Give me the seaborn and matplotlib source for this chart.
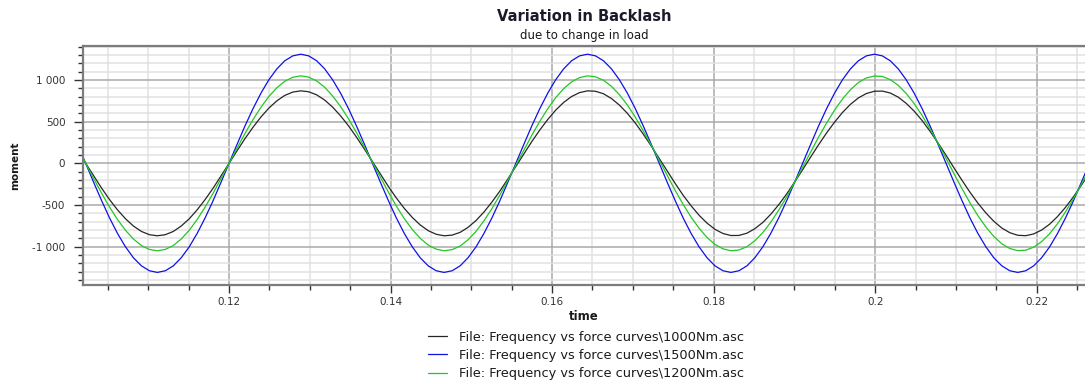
import matplotlib
matplotlib.use("Agg")
import matplotlib.pyplot as plt
import numpy as np
import pandas as pd
import seaborn as sns
from matplotlib.ticker import MultipleLocator, FuncFormatter

# ---------------- data ----------------
time_s = [
    0.10126, 0.10225, 0.10323, 0.10422, 0.10520, 0.10619, 0.10718, 0.10816, 0.10915, 0.11014,
    0.11112, 0.11211, 0.11310, 0.11408, 0.11507, 0.11605, 0.11704, 0.11803, 0.11901,
    0.12000, 0.12099, 0.12197, 0.12296, 0.12395, 0.12493, 0.12592, 0.12690, 0.12789, 0.12888,
    0.12986, 0.13085, 0.13184, 0.13282, 0.13381, 0.13480, 0.13578, 0.13677, 0.13776,
    0.13874, 0.13973, 0.14071, 0.14170, 0.14269, 0.14367, 0.14466, 0.14565, 0.14663,
    0.14762, 0.14861, 0.14959, 0.15058, 0.15156, 0.15255, 0.15354, 0.15452, 0.15551,
    0.15650, 0.15748, 0.15847, 0.15946, 0.16044, 0.16143, 0.16241, 0.16340, 0.16439,
    0.16537, 0.16636, 0.16735, 0.16833, 0.16932, 0.17031, 0.17129, 0.17228, 0.17327,
    0.17425, 0.17524, 0.17622, 0.17721, 0.17820, 0.17918, 0.18017, 0.18116, 0.18214,
    0.18313, 0.18412, 0.18510, 0.18609, 0.18707, 0.18806, 0.18905, 0.19003, 0.19102,
    0.19201, 0.19299, 0.19398, 0.19497, 0.19595, 0.19694, 0.19792, 0.19891, 0.19990,
    0.20088, 0.20187, 0.20286, 0.20384, 0.20483, 0.20582, 0.20680, 0.20779, 0.20878,
    0.20976, 0.21075, 0.21173, 0.21272, 0.21371, 0.21469, 0.21568, 0.21667, 0.21765,
    0.21864, 0.21963, 0.22061, 0.22160, 0.22258, 0.22357, 0.22456, 0.22554, 0.22653,
]

moment_1000 = [
    151, 0, -151, -298, -435, -559, -666, -753, -818, -857, -870, -857, -818, -753, -666, -559, -435, -298, -151,
    0, 150, 296, 432, 556, 663, 750, 815, 855, 870, 859, 822, 759, 675, 570, 449, 314, 169, 19,
    -131, -278, -416, -541, -650, -740, -809, -852, -870, -862, -829, -769, -687, -585, -465, -332, -188, -38,
    112, 260, 399, 526, 638, 731, 802, 849, 870, 865, 835, 778, 699, 600, 482, 350, 207, 57,
    -92, -242, -383, -510, -624, -718, -793, -843, -867, -866, -839, -785, -710, -612, -497, -367, -225, -77,
    75, 222, 364, 494, 610, 708, 785, 838, 865, 867, 844, 794, 720, 626, 513, 384, 243, 96,
    -55, -204, -346, -478, -596, -696, -777, -833, -864, -869, -848, -801, -731, -639, -528, -401, -262, -115,
]

moment_1500 = [
    227, 0, -227, -448, -655, -842, -1003, -1134, -1231, -1290, -1310, -1290, -1231, -1134, -1003, -842, -655, -448, -227,
    0, 227, 448, 655, 842, 1003, 1134, 1231, 1290, 1310, 1290, 1231, 1134, 1003, 842, 655, 448, 227, 0,
    -227, -448, -655, -842, -1003, -1134, -1231, -1290, -1310, -1290, -1231, -1134, -1003, -842, -655, -448, -227, 0,
    227, 448, 655, 842, 1003, 1134, 1231, 1290, 1310, 1290, 1231, 1134, 1003, 842, 655, 448, 227, 0,
    -227, -448, -655, -842, -1003, -1134, -1231, -1290, -1310, -1290, -1231, -1134, -1003, -842, -655, -448, -227, 0,
    227, 448, 655, 842, 1003, 1134, 1231, 1290, 1310, 1290, 1231, 1134, 1003, 842, 655, 448, 227, 0,
    -227, -448, -655, -842, -1003, -1134, -1231, -1290, -1310, -1290, -1231, -1134, -1003, -842, -655, -448, -227, 0,
]

moment_1200 = [
    182, 0, -182, -359, -525, -675, -804, -909, -987, -1034, -1050, -1034, -987, -909, -804, -675, -525, -359, -182,
    0, 181, 358, 523, 673, 802, 907, 985, 1033, 1050, 1035, 989, 913, 809, 682, 533, 369, 193, 12,
    -170, -347, -513, -664, -795, -901, -982, -1031, -1050, -1037, -993, -919, -817, -691, -543, -380, -204, -23,
    159, 336, 503, 655, 787, 896, 978, 1029, 1050, 1039, 997, 924, 824, 700, 553, 390, 216, 35,
    -147, -325, -493, -647, -780, -890, -974, -1027, -1050, -1041, -1001, -930, -832, -708, -563, -401, -227, -46,
    136, 314, 483, 638, 772, 884, 970, 1025, 1048, 1043, 1005, 936, 839, 717, 573, 412, 238, 58,
    -125, -304, -473, -629, -765, -878, -966, -1023, -1048, -1043, -1007, -940, -845, -725, -582, -423, -250, -69,
]

series_labels = [
    "File: Frequency vs force curves\\1000Nm.asc",
    "File: Frequency vs force curves\\1500Nm.asc",
    "File: Frequency vs force curves\\1200Nm.asc",
]
series_colors = ["#262626", "#1010e8", "#22c822"]

# ---------------- build long table ----------------
frames = []
for lab, vals in zip(series_labels, [moment_1000, moment_1500, moment_1200]):
    assert len(vals) == len(time_s)
    frames.append(pd.DataFrame({"time": time_s, "moment": vals, "file": lab}))
df = pd.concat(frames, ignore_index=True)

# ---------------- figure ----------------
sns.set_style("ticks")
plt.rcParams["font.family"] = ["DejaVu Sans"]

W, H = 1085, 385
fig = plt.figure(figsize=(W / 100, H / 100), dpi=100)
ax_left, ax_right, ax_top, ax_bottom = 82.7, 1085, 45.7, 285
ax = fig.add_axes([ax_left / W, 1 - ax_bottom / H, (ax_right - ax_left) / W, (ax_bottom - ax_top) / H])

sns.lineplot(data=df, x="time", y="moment", hue="file", hue_order=series_labels,
             palette=dict(zip(series_labels, series_colors)), sort=False, estimator=None,
             linewidth=0.9, ax=ax, legend=True)

ax.set_xlim(0.10188, 0.22598)
ax.set_ylim(-1461, 1412)

ax.xaxis.set_major_locator(MultipleLocator(0.02))
ax.xaxis.set_minor_locator(MultipleLocator(0.005))
ax.yaxis.set_major_locator(MultipleLocator(500))
ax.yaxis.set_minor_locator(MultipleLocator(100))
ax.xaxis.set_major_formatter(FuncFormatter(lambda v, p: "%g" % round(v, 4)))
ax.yaxis.set_major_formatter(FuncFormatter(lambda v, p: f"{int(round(v)):,}".replace(",", " ")))

ax.set_axisbelow(True)
ax.grid(True, which="major", color="#a9a9a9", linewidth=1.1)
ax.grid(True, which="minor", color="#e1e1e1", linewidth=1.1)

for side in ["top", "left", "bottom"]:
    ax.spines[side].set_color("#7c7c7c")
    ax.spines[side].set_linewidth(1.6)
ax.spines["right"].set_visible(False)

ax.tick_params(which="both", direction="out", color="#333333", width=1.0,
               labelsize=7.5, labelcolor="#333333", bottom=True, left=True)
ax.tick_params(axis="x", which="major", length=5.8, pad=3.0)
ax.tick_params(axis="x", which="minor", length=3.6)
ax.tick_params(axis="y", which="major", length=6.5, pad=6.0)
ax.tick_params(axis="y", which="minor", length=3.6)

ax.set_xlabel("time", fontsize=8.5, fontweight="bold", va="baseline", color="#1a1a1a")
ax.xaxis.set_label_coords(0.5, (ax_bottom - 320) / (ax_bottom - ax_top))
ax.set_ylabel("moment", fontsize=7.5, fontweight="bold", va="center", color="#1a1a1a")
ax.yaxis.set_label_coords((14.7 - ax_left) / (ax_right - ax_left), 0.5)

cx = ((ax_left + ax_right) / 2) / W
fig.text(cx, 1 - 20.7 / H, "Variation in Backlash", ha="center", va="baseline",
         fontsize=10.5, fontweight="bold", color="#1a1a2a")
fig.text(cx, 1 - 39.3 / H, "due to change in load", ha="center", va="baseline",
         fontsize=8.5, color="#1a1a1a")

handles, labels = ax.get_legend_handles_labels()
ax.get_legend().remove()
fig.legend(handles, labels, loc="upper left", bbox_to_anchor=(427.7 / W, 1 - 330.5 / H),
           frameon=False, fontsize=9.3, handlelength=1.47, handletextpad=0.97,
           labelspacing=0.42, borderpad=0, borderaxespad=0, labelcolor="#1a1a1a")

fig.savefig("out.png", dpi=100)
